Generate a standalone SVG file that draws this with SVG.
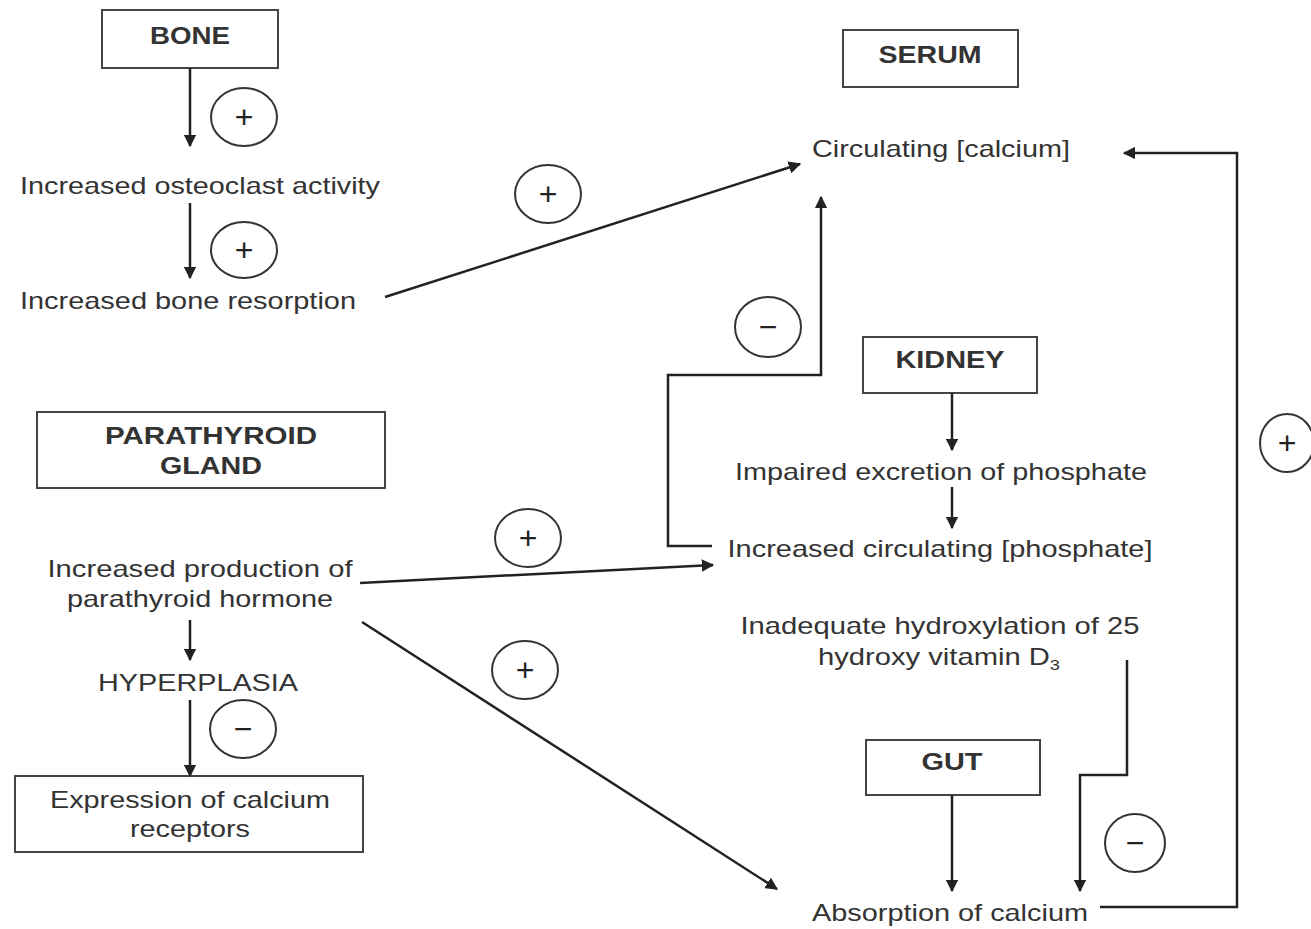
<svg xmlns="http://www.w3.org/2000/svg" width="1311" height="929" viewBox="0 0 1311 929">
<defs>
<marker id="ah" viewBox="0 0 10 10" refX="9" refY="5" markerWidth="5" markerHeight="5" orient="auto" markerUnits="strokeWidth">
<path d="M0,0 L10,5 L0,10 z" fill="#222"/>
</marker>
<style>
.t{font-family:"Liberation Sans",Arial,sans-serif;font-size:24px;fill:#333;text-anchor:middle}
.b{font-weight:bold;font-size:23px}
.box{fill:#fff;stroke:#444;stroke-width:2}
.c{fill:none;stroke:#222;stroke-width:2.5}
.a{marker-end:url(#ah)}
.sg{fill:none;stroke:#333;stroke-width:2}
.sym{font-family:"Liberation Sans",Arial,sans-serif;font-size:32px;fill:#222;text-anchor:middle}
</style>
</defs>
<rect width="1311" height="929" fill="#fff"/>

<g id="bone"><rect class="box" x="102" y="10" width="176" height="58"/><text class="t b" x="190" y="44" textLength="80" lengthAdjust="spacingAndGlyphs">BONE</text></g>
<g id="osteoclast"><text class="t" x="200" y="194" textLength="360" lengthAdjust="spacingAndGlyphs">Increased osteoclast activity</text></g>
<g id="resorption"><text class="t" x="188" y="309" textLength="336" lengthAdjust="spacingAndGlyphs">Increased bone resorption</text></g>
<g id="serum"><rect class="box" x="843" y="30" width="175" height="57"/><text class="t b" x="930" y="63" textLength="103" lengthAdjust="spacingAndGlyphs">SERUM</text></g>
<g id="calcium"><text class="t" x="941" y="157" textLength="258" lengthAdjust="spacingAndGlyphs">Circulating [calcium]</text></g>
<g id="kidney"><rect class="box" x="863" y="337" width="174" height="56"/><text class="t b" x="950" y="368" textLength="109" lengthAdjust="spacingAndGlyphs">KIDNEY</text></g>
<g id="impaired"><text class="t" x="941" y="480" textLength="412" lengthAdjust="spacingAndGlyphs">Impaired excretion of phosphate</text></g>
<g id="phosphate"><text class="t" x="940" y="557" textLength="425" lengthAdjust="spacingAndGlyphs">Increased circulating [phosphate]</text></g>
<g id="parathyroid"><rect class="box" x="37" y="412" width="348" height="76"/><text class="t b" x="211" y="444" textLength="212" lengthAdjust="spacingAndGlyphs">PARATHYROID</text><text class="t b" x="211" y="474" textLength="102" lengthAdjust="spacingAndGlyphs">GLAND</text></g>
<g id="pth"><text class="t" x="200" y="577" textLength="305" lengthAdjust="spacingAndGlyphs">Increased production of</text><text class="t" x="200" y="607" textLength="266" lengthAdjust="spacingAndGlyphs">parathyroid hormone</text></g>
<g id="hyperplasia"><text class="t" x="198" y="691" textLength="200" lengthAdjust="spacingAndGlyphs">HYPERPLASIA</text></g>
<g id="receptors"><rect class="box" x="15" y="776" width="348" height="76"/><text class="t" x="190" y="808" textLength="280" lengthAdjust="spacingAndGlyphs">Expression of calcium</text><text class="t" x="190" y="837" textLength="120" lengthAdjust="spacingAndGlyphs">receptors</text></g>
<g id="vitd"><text class="t" x="940" y="634" textLength="399" lengthAdjust="spacingAndGlyphs">Inadequate hydroxylation of 25</text><text class="t" x="939" y="665" textLength="242" lengthAdjust="spacingAndGlyphs">hydroxy vitamin D<tspan font-size="15" dy="5">3</tspan></text></g>
<g id="gut"><rect class="box" x="866" y="740" width="174" height="55"/><text class="t b" x="952" y="770" textLength="61" lengthAdjust="spacingAndGlyphs">GUT</text></g>
<g id="absorption"><text class="t" x="950" y="921" textLength="276" lengthAdjust="spacingAndGlyphs">Absorption of calcium</text></g>

<g id="connectors">
<path class="c a" d="M190,68 V146"/>
<path class="c a" d="M190,203 V278"/>
<path class="c a" d="M385,297 L800,164"/>
<path class="c a" d="M712,546 H668 V375 H821 V197"/>
<path class="c a" d="M952,393 V450"/>
<path class="c a" d="M952,487 V528"/>
<path class="c a" d="M360,583 L713,565"/>
<path class="c a" d="M190,620 V660"/>
<path class="c a" d="M190,700 V776"/>
<path class="c a" d="M362,622 L777,889"/>
<path class="c a" d="M1127,660 V775 H1080 V891"/>
<path class="c a" d="M952,795 V891"/>
<path class="c a" d="M1100,907 H1237 V153 H1124"/>
</g>

<g id="signs">
<ellipse class="sg" cx="244" cy="117" rx="33" ry="29"/><text class="sym" x="244" y="128">+</text>
<ellipse class="sg" cx="244" cy="250" rx="33" ry="28"/><text class="sym" x="244" y="261">+</text>
<ellipse class="sg" cx="548" cy="194" rx="33" ry="29"/><text class="sym" x="548" y="205">+</text>
<ellipse class="sg" cx="768" cy="327" rx="33" ry="30"/><text class="sym" x="768" y="338">−</text>
<ellipse class="sg" cx="528" cy="538" rx="33" ry="29"/><text class="sym" x="528" y="549">+</text>
<ellipse class="sg" cx="525" cy="670" rx="33" ry="29"/><text class="sym" x="525" y="681">+</text>
<ellipse class="sg" cx="243" cy="729" rx="33" ry="29"/><text class="sym" x="243" y="740">−</text>
<ellipse class="sg" cx="1135" cy="843" rx="30" ry="29"/><text class="sym" x="1135" y="854">−</text>
<ellipse class="sg" cx="1287" cy="443" rx="27" ry="29"/><text class="sym" x="1287" y="454">+</text>
</g>
</svg>
